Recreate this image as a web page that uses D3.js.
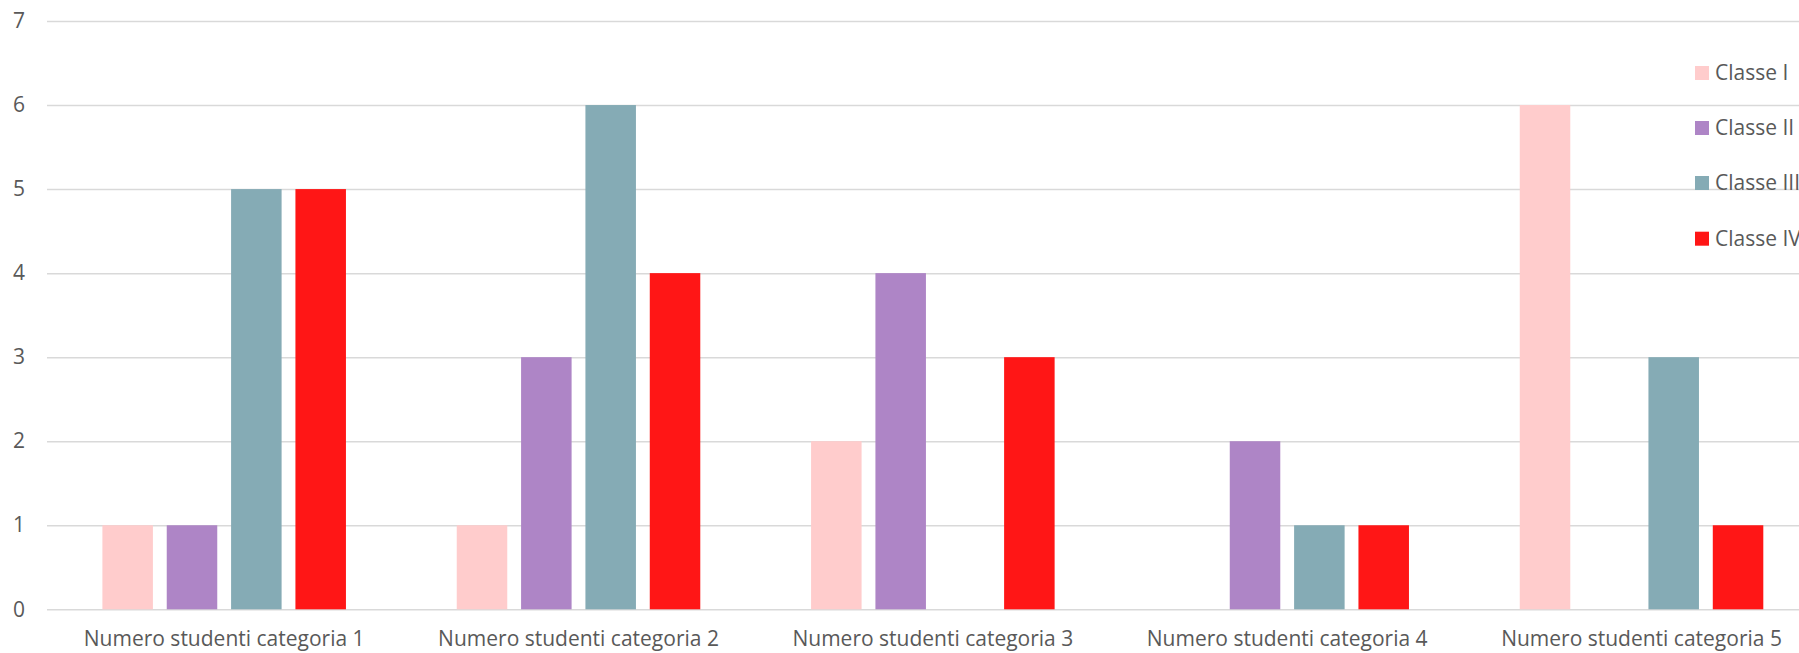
<!DOCTYPE html>
<html>
<head>
<meta charset="utf-8">
<script src="https://cdn.jsdelivr.net/npm/d3@7"></script>
<style>
  html, body { margin: 0; padding: 0; background: #fff; overflow: hidden; }
  text { font-family: "Open Sans", sans-serif; fill: #595959; }
</style>
</head>
<body>
<svg id="chart" width="1799" height="653"></svg>
<script>
const categories = ["Numero studenti categoria 1", "Numero studenti categoria 2", "Numero studenti categoria 3", "Numero studenti categoria 4", "Numero studenti categoria 5"];
const seriesNames = ["Classe I", "Classe II", "Classe III", "Classe IV"];
const classeI   = [1, 1, 2, 0, 6];
const classeII  = [1, 3, 4, 2, 0];
const classeIII = [5, 6, 0, 1, 3];
const classeIV  = [5, 4, 3, 1, 1];
const yTicks = [0, 1, 2, 3, 4, 5, 6, 7];
const colors = ["#FFCCCC", "#AE85C6", "#85ABB5", "#FF1616"];

const seriesValues = [classeI, classeII, classeIII, classeIV];

const svg = d3.select("#chart");
const plotLeft = 47, plotRight = 1818.7, plotTop = 21, plotBottom = 609.3;

const x0 = d3.scaleBand().domain(categories).range([plotLeft, plotRight]).padding(0);
const groupPad = 55.4;
const x1 = d3.scaleBand().domain(seriesNames)
  .range([groupPad, x0.bandwidth() - groupPad])
  .paddingInner(0.215).paddingOuter(0);
const y = d3.scaleLinear().domain([0, 7]).range([plotBottom, plotTop]);

// gridlines
const grid = svg.append("g")
  .attr("transform", `translate(${plotLeft},0)`)
  .call(d3.axisLeft(y).tickValues(yTicks).tickSize(-(plotRight - plotLeft)).tickFormat(""));
grid.select(".domain").remove();
grid.selectAll("line").attr("stroke", "#d9d9d9").attr("stroke-width", 1.5);

// y tick labels
const yAxis = svg.append("g")
  .attr("transform", `translate(25,0)`)
  .call(d3.axisLeft(y).tickValues(yTicks).tickSize(0).tickPadding(0).tickFormat(d3.format("d")));
yAxis.select(".domain").remove();
yAxis.selectAll("text").style("font-size", "21px").attr("fill", "#595959").style("font-family", "'Open Sans', sans-serif");

// bars
const groups = svg.append("g").selectAll("g")
  .data(categories)
  .join("g")
  .attr("transform", d => `translate(${x0(d)},0)`);

groups.selectAll("rect")
  .data((d, i) => seriesNames.map((s, j) => ({ s, v: seriesValues[j][i], c: colors[j] })))
  .join("rect")
  .attr("x", d => x1(d.s))
  .attr("width", x1.bandwidth())
  .attr("y", d => y(d.v))
  .attr("height", d => y(0) - y(d.v))
  .attr("fill", d => d.c);

// x axis labels
const xAxis = svg.append("g")
  .attr("transform", `translate(0,${plotBottom})`)
  .call(d3.axisBottom(x0).tickSize(0).tickPadding(22));
xAxis.select(".domain").remove();
xAxis.selectAll("text").style("font-size", "21px").attr("fill", "#595959").style("font-family", "'Open Sans', sans-serif");

// legend
const legend = svg.append("g").attr("transform", "translate(1695,0)");
const legendY = [73, 128, 183, 238.7];
const li = legend.selectAll("g").data(seriesNames).join("g")
  .attr("transform", (d, i) => `translate(0,${legendY[i]})`);
li.append("rect").attr("x", 0).attr("y", -7).attr("width", 14).attr("height", 14)
  .attr("fill", (d, i) => colors[i]);
li.append("text").attr("x", 20).attr("y", 0).attr("dy", "0.35em")
  .style("font-size", "21px").text(d => d);
</script>
</body>
</html>
